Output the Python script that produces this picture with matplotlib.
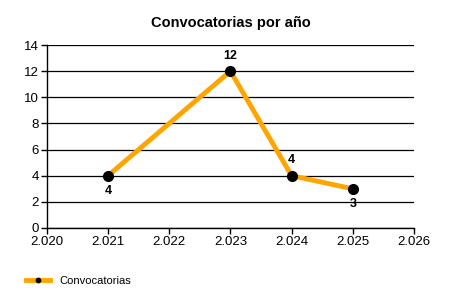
import matplotlib
matplotlib.use("Agg")
import matplotlib.pyplot as plt

plt.rcParams["font.family"] = ["Liberation Sans", "DejaVu Sans"]

years = [2021, 2023, 2024, 2025]
counts = [4, 12, 4, 3]
xtick_vals = [2020, 2021, 2022, 2023, 2024, 2025, 2026]
xtick_labels = ["2.020", "2.021", "2.022", "2.023", "2.024", "2.025", "2.026"]
label_pos = ["below", "above", "above", "below"]

fig = plt.figure(figsize=(4.5, 3), dpi=100)
ax = fig.add_axes([0.104, 0.24, 0.816, 0.61])

ax.plot(years, counts, color="#FFA500", linewidth=3.5, marker="o",
        markersize=7, markerfacecolor="black", markeredgecolor="black",
        label="Convocatorias", zorder=3)

for x, y, pos in zip(years, counts, label_pos):
    off = -11 if pos == "below" else 11
    ax.annotate(str(y), (x, y), xytext=(0, off), textcoords="offset points",
                ha="center", va="center", fontsize=9, fontweight="bold")

ax.set_xlim(2020, 2026)
ax.set_ylim(0, 14)
ax.set_xticks(xtick_vals)
ax.set_xticklabels(xtick_labels)
ax.set_yticks(range(0, 15, 2))
ax.tick_params(labelsize=9.5, length=4, width=1, pad=1.5)
ax.grid(axis="y", color="black", linewidth=0.9)
ax.set_axisbelow(True)
for s in ["top", "right"]:
    ax.spines[s].set_visible(False)
for s in ["left", "bottom"]:
    ax.spines[s].set_linewidth(1)

ax.set_title("Convocatorias por año", fontsize=10.5, fontweight="bold", pad=13)

fig.legend(loc="lower left", bbox_to_anchor=(0.035, 0.015), frameon=False,
           fontsize=8, handlelength=2.2, markerscale=0.45)

fig.savefig("out.png", dpi=100)
